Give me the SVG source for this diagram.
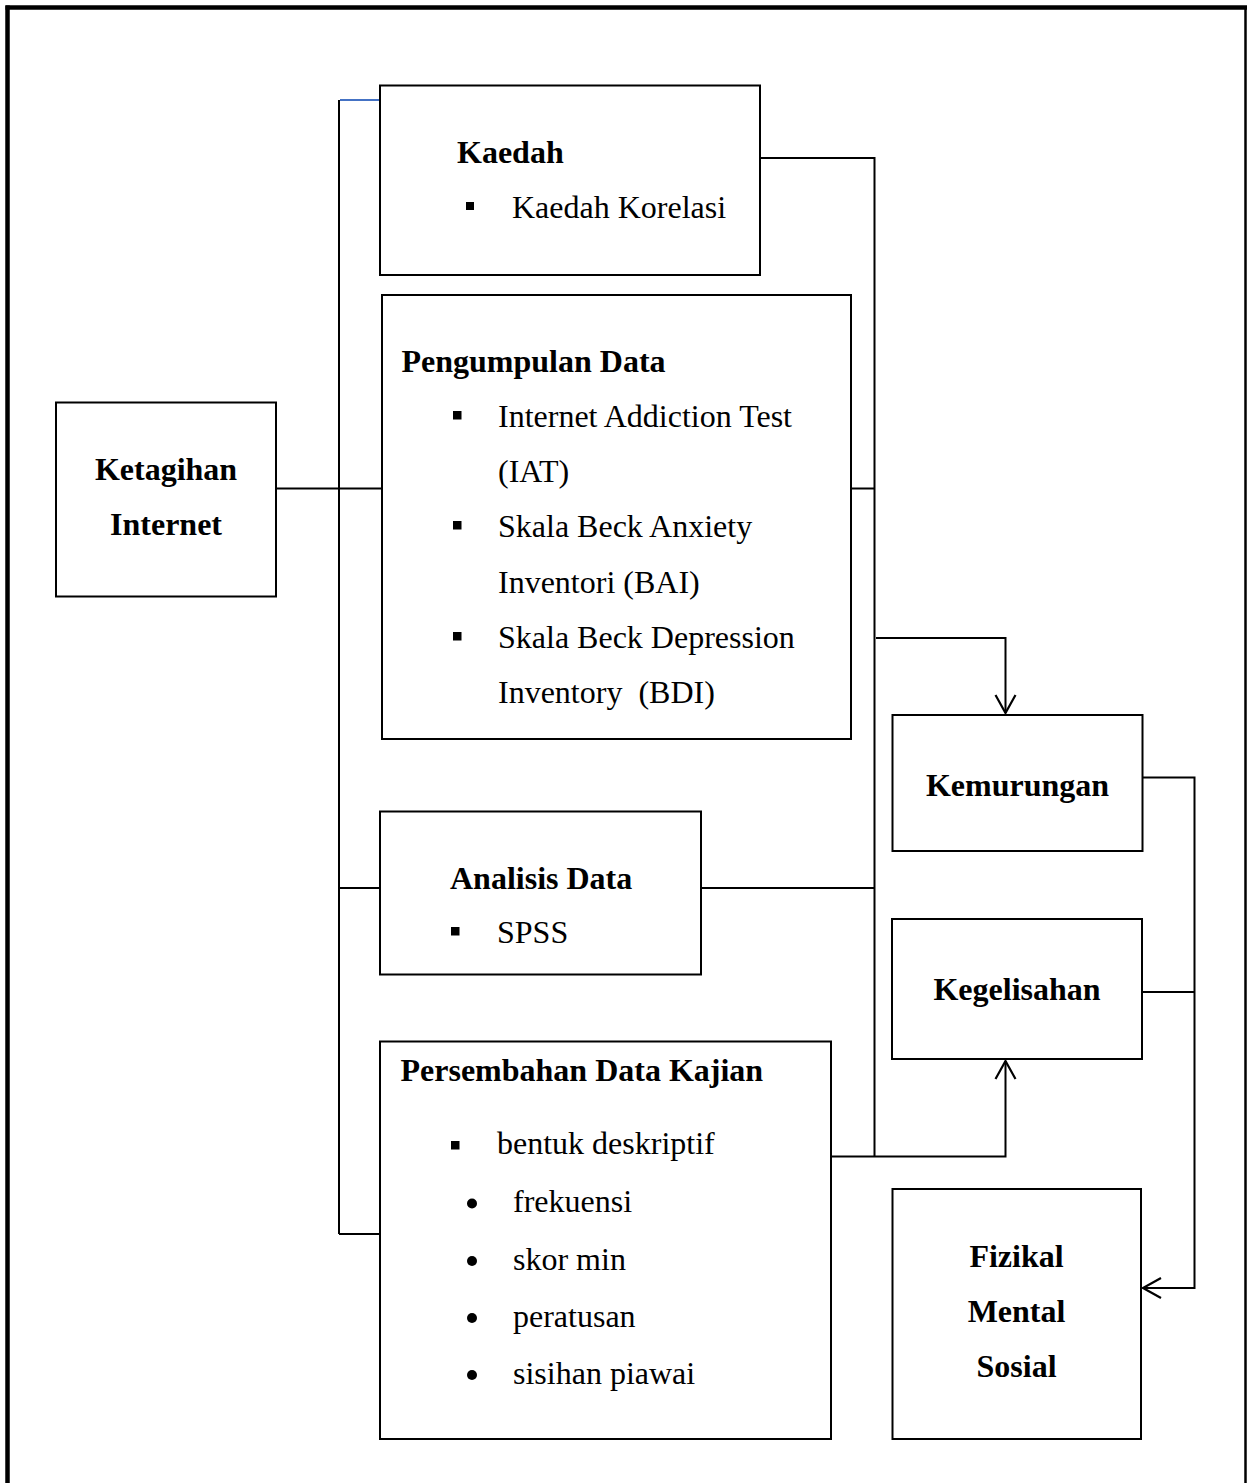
<svg xmlns="http://www.w3.org/2000/svg" width="1247" height="1483" viewBox="0 0 1247 1483">
<style>
.box{fill:#fff;stroke:#000;stroke-width:2}
.ln{fill:none;stroke:#000;stroke-width:2}
.t{font-family:"Liberation Serif","Times New Roman",serif;font-size:32px;fill:#000}
.b{font-weight:bold}
.c{text-anchor:middle}
</style>
<defs>
<marker id="arr" markerWidth="24" markerHeight="24" refX="20" refY="12" orient="auto" markerUnits="userSpaceOnUse">
<path d="M2,2 L20,12 L2,22" fill="none" stroke="#000" stroke-width="2.2"/>
</marker>
</defs>
<rect width="1247" height="1483" fill="#fff"/>
<g id="frame">
<line x1="7.5" y1="5.5" x2="7.5" y2="1483" stroke="#000" stroke-width="4.5"/>
<line x1="5.5" y1="7.5" x2="1247" y2="7.5" stroke="#000" stroke-width="4.5"/>
<line x1="1245.5" y1="7.5" x2="1245.5" y2="1483" stroke="#000" stroke-width="2.5"/>
</g>
<g id="connectors">
<line x1="340" y1="100" x2="381" y2="100" stroke="#4472C4" stroke-width="2"/>
<line class="ln" x1="339" y1="100" x2="339" y2="1234"/>
<line class="ln" x1="276" y1="488.5" x2="382" y2="488.5"/>
<line class="ln" x1="339" y1="888" x2="380" y2="888"/>
<line class="ln" x1="339" y1="1234" x2="380" y2="1234"/>
<polyline class="ln" points="760,158 874.5,158 874.5,1156.5"/>
<line class="ln" x1="851" y1="488.5" x2="874.5" y2="488.5"/>
<line class="ln" x1="701" y1="888" x2="874.5" y2="888"/>
<polyline class="ln" points="876,638 1005.5,638 1005.5,713" marker-end="url(#arr)"/>
<polyline class="ln" points="831,1156.5 1005.5,1156.5 1005.5,1061" marker-end="url(#arr)"/>
<polyline class="ln" points="1143,777.5 1194.5,777.5 1194.5,1288 1143,1288" marker-end="url(#arr)"/>
<line class="ln" x1="1142" y1="992" x2="1194.5" y2="992"/>
</g>
<g id="ketagihan">
<rect class="box" x="56" y="402.5" width="220" height="194"/>
<text class="t b c" x="166" y="480">Ketagihan</text>
<text class="t b c" x="166" y="535">Internet</text>
</g>
<g id="kaedah">
<rect class="box" x="380" y="85.5" width="380" height="189.5"/>
<text class="t b" x="457" y="163">Kaedah</text>
<rect x="466" y="202" width="8" height="8" fill="#000"/>
<text class="t" x="512" y="218">Kaedah Korelasi</text>
</g>
<g id="pengumpulan">
<rect class="box" x="382" y="295" width="469" height="444"/>
<text class="t b" x="401.5" y="372">Pengumpulan Data</text>
<rect x="453" y="411" width="8.5" height="8.5" fill="#000"/>
<text class="t" x="498" y="427">Internet Addiction Test</text>
<text class="t" x="498" y="482">(IAT)</text>
<rect x="453" y="521" width="8.5" height="8.5" fill="#000"/>
<text class="t" x="498" y="537">Skala Beck Anxiety</text>
<text class="t" x="498" y="593">Inventori (BAI)</text>
<rect x="453" y="632" width="8.5" height="8.5" fill="#000"/>
<text class="t" x="498" y="648">Skala Beck Depression</text>
<text class="t" x="498" y="703" xml:space="preserve">Inventory  (BDI)</text>
</g>
<g id="analisis">
<rect class="box" x="380" y="811.5" width="321" height="163"/>
<text class="t b" x="450" y="889">Analisis Data</text>
<rect x="451" y="927" width="8.5" height="8.5" fill="#000"/>
<text class="t" x="497" y="943">SPSS</text>
</g>
<g id="persembahan">
<rect class="box" x="380" y="1041.5" width="451" height="397.5"/>
<text class="t b" x="400.5" y="1081">Persembahan Data Kajian</text>
<rect x="451" y="1141" width="8.5" height="8.5" fill="#000"/>
<text class="t" x="497" y="1154">bentuk deskriptif</text>
<circle cx="472" cy="1203.5" r="5" fill="#000"/>
<text class="t" x="513" y="1212">frekuensi</text>
<circle cx="472" cy="1261" r="5" fill="#000"/>
<text class="t" x="513" y="1269.5">skor min</text>
<circle cx="472" cy="1318" r="5" fill="#000"/>
<text class="t" x="513" y="1327">peratusan</text>
<circle cx="472" cy="1375" r="5" fill="#000"/>
<text class="t" x="513" y="1383.5">sisihan piawai</text>
</g>
<g id="kemurungan">
<rect class="box" x="892.5" y="715" width="250" height="136"/>
<text class="t b c" x="1017.5" y="796">Kemurungan</text>
</g>
<g id="kegelisahan">
<rect class="box" x="892" y="919" width="250" height="140"/>
<text class="t b c" x="1017" y="1000">Kegelisahan</text>
</g>
<g id="fizikal">
<rect class="box" x="892.5" y="1189" width="248.5" height="250"/>
<text class="t b c" x="1016.5" y="1267">Fizikal</text>
<text class="t b c" x="1016.5" y="1322">Mental</text>
<text class="t b c" x="1016.5" y="1377">Sosial</text>
</g>
</svg>
